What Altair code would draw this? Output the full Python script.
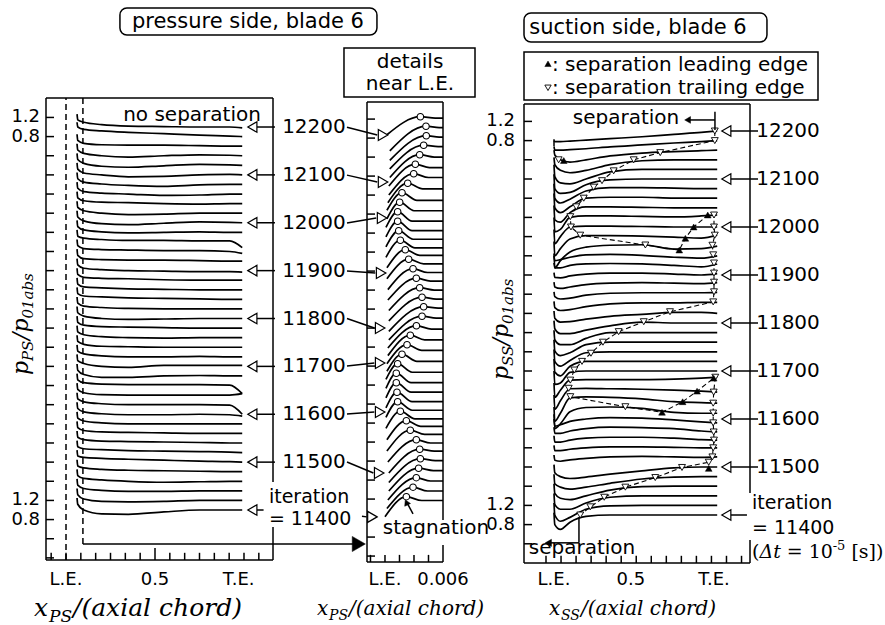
import altair as alt
import pandas as pd

# ---------------------------------------------------------------- data
ITER = list(range(11400, 12201, 20))          # 41 snapshots, k = 0..40
STEP = 0.2                                    # offset between snapshots

# pressure side: x nodes and deviation of each snapshot from its level
PS_X = [0.062, 0.066, 0.10, 0.20, 0.35, 0.55, 0.75, 0.92, 0.99]
PS_DEV = [
    [0.25, 0.12, 0.00, -0.08, -0.09, -0.04, 0.00, 0.00, 0.00],
    [0.25, 0.12, 0.03, -0.02, -0.03, -0.02, 0.00, 0.00, 0.00],
    [0.25, 0.12, 0.05, 0.01, -0.01, -0.01, 0.00, 0.00, 0.00],
    [0.25, 0.12, 0.06, 0.03, 0.00, -0.02, -0.01, 0.00, 0.00],
    [0.25, 0.12, 0.08, 0.05, 0.03, 0.02, 0.01, 0.00, 0.00],
    [0.25, 0.13, 0.10, 0.08, 0.06, 0.04, 0.02, 0.01, 0.00],
    [0.25, 0.12, 0.08, 0.06, 0.04, 0.03, 0.02, 0.01, 0.00],
    [0.25, 0.12, 0.07, 0.04, 0.03, 0.02, 0.01, 0.00, 0.00],
    [0.25, 0.12, 0.06, 0.03, 0.02, 0.01, 0.00, 0.00, 0.00],
    [0.25, 0.12, 0.06, 0.02, 0.00, 0.00, 0.00, 0.00, 0.00],
    [0.25, 0.12, 0.05, 0.01, -0.01, -0.01, 0.00, -0.01, -0.04],
    [0.25, 0.12, 0.06, 0.02, 0.00, 0.00, 0.00, -0.01, -0.20],
    [0.25, 0.12, 0.05, 0.01, 0.00, 0.00, 0.00, 0.00, 0.03],
    [0.25, 0.12, 0.06, 0.03, 0.02, 0.02, 0.02, 0.01, -0.17],
    [0.25, 0.12, 0.03, -0.03, -0.03, 0.00, 0.01, 0.00, 0.00],
    [0.25, 0.12, 0.06, 0.00, -0.02, 0.02, 0.02, 0.02, 0.02],
    [0.25, 0.12, 0.06, 0.02, 0.00, 0.00, 0.01, 0.00, 0.00],
    [0.25, 0.12, 0.06, 0.02, 0.01, 0.00, 0.00, 0.00, 0.00],
    [0.25, 0.12, 0.06, 0.02, 0.00, -0.01, 0.00, 0.00, 0.00],
    [0.25, 0.12, 0.06, 0.03, 0.02, 0.01, 0.00, 0.00, 0.00],
    [0.25, 0.12, 0.05, 0.00, -0.02, -0.01, 0.00, 0.00, 0.00],
    [0.25, 0.12, 0.06, 0.03, 0.01, 0.00, 0.00, 0.00, 0.00],
    [0.25, 0.12, 0.07, 0.05, 0.03, 0.02, 0.01, 0.00, 0.00],
    [0.25, 0.12, 0.06, 0.04, 0.02, 0.01, 0.00, 0.00, 0.00],
    [0.25, 0.12, 0.06, 0.04, 0.03, 0.01, 0.00, 0.00, 0.00],
    [0.25, 0.12, 0.05, 0.02, 0.00, -0.01, -0.02, -0.02, -0.03],
    [0.25, 0.12, 0.05, 0.03, 0.02, 0.02, 0.01, 0.00, 0.00],
    [0.25, 0.12, 0.06, 0.04, 0.03, 0.02, 0.02, 0.00, -0.04],
    [0.25, 0.12, 0.08, 0.05, 0.03, 0.03, 0.02, 0.02, -0.12],
    [0.25, 0.12, 0.05, 0.01, -0.01, 0.00, 0.01, 0.00, 0.00],
    [0.25, 0.12, 0.04, -0.02, -0.04, -0.01, 0.02, 0.01, 0.00],
    [0.25, 0.12, 0.05, 0.00, -0.03, -0.02, 0.00, 0.00, 0.00],
    [0.25, 0.12, 0.06, 0.03, 0.02, 0.00, -0.01, 0.00, 0.00],
    [0.25, 0.12, 0.05, 0.02, 0.00, -0.03, -0.02, 0.00, 0.00],
    [0.25, 0.12, 0.05, 0.01, -0.02, -0.04, -0.01, 0.00, 0.00],
    [0.25, 0.12, 0.04, 0.00, -0.04, -0.03, 0.00, 0.01, 0.00],
    [0.25, 0.12, 0.04, -0.02, -0.04, -0.01, 0.02, 0.01, 0.00],
    [0.25, 0.12, 0.05, 0.00, -0.03, 0.00, 0.02, 0.01, 0.00],
    [0.25, 0.12, 0.06, 0.03, 0.02, 0.02, 0.01, 0.00, 0.00],
    [0.30, 0.20, 0.15, 0.12, 0.09, 0.06, 0.03, 0.01, 0.00],
    [0.27, 0.15, 0.10, 0.05, 0.02, 0.01, 0.00, 0.00, -0.02],
]

# details near L.E. (x in 1/1000 of axial chord)
B_X0 = [0.0, 0.2, 0.3, 0.4, 0.4, 0.4, 0.3, 0.2, 0.2, 0.1, 0.1, 0.1, 0.1, 0.1, 0.1, 0.2, 0.2, 0.3, 0.3, 0.4,
        0.4, 0.4, 0.4, 0.3, 0.3, 0.2, 0.2, 0.1, 0.1, 0.1, 0.1, 0.2, 0.2, 0.3, 0.4, 0.4, 0.5, 0.5, 0.5, 0.5, 0.2]
B_Y0 = [-0.42, -0.45, -0.47, -0.48, -0.50, -0.50, -0.47, -0.44, -0.40, -0.36, -0.33, -0.33, -0.32, -0.32,
        -0.33, -0.36, -0.40, -0.43, -0.47, -0.50, -0.52, -0.50, -0.48, -0.46, -0.44, -0.41, -0.38, -0.36,
        -0.34, -0.33, -0.33, -0.35, -0.37, -0.41, -0.45, -0.46, -0.48, -0.50, -0.52, -0.52, -0.38]
B_XS = [2.21, 2.90, 3.24, 3.48, 3.66, 3.59, 3.24, 2.62, 2.21, 1.59, 1.31, 1.24, 1.17, 1.17, 1.31, 1.76,
        2.28, 2.62, 3.25, 3.83, 4.00, 3.83, 3.59, 3.24, 2.90, 2.45, 2.10, 1.59, 1.42, 1.31, 1.31, 1.52,
        1.76, 2.35, 2.97, 3.14, 3.59, 4.00, 4.27, 4.24, 3.66]
B_XK = [3.8, 4.4, 4.7, 5.0, 5.2, 5.1, 4.7, 4.1, 3.7, 3.1, 2.8, 2.8, 2.7, 2.7, 2.8, 3.3, 3.8, 4.1, 4.8, 5.3,
        5.5, 5.3, 5.1, 4.7, 4.4, 4.0, 3.6, 3.1, 2.9, 2.8, 2.8, 3.0, 3.3, 3.9, 4.5, 4.6, 5.1, 5.5, 5.6, 5.6, 5.2]
B_DROP = [0.08, 0.08, 0.07, 0.05, 0.04, 0.04, 0.07, 0.09, 0.12, 0.16, 0.18, 0.20, 0.20, 0.20, 0.18, 0.15,
          0.12, 0.10, 0.07, 0.04, 0.03, 0.04, 0.05, 0.06, 0.08, 0.10, 0.12, 0.16, 0.18, 0.20, 0.20, 0.18,
          0.16, 0.12, 0.08, 0.07, 0.05, 0.03, 0.03, 0.03, 0.03]
B_XEND = 6.0

# suction side
SS_X = [0.0, 0.005, 0.04, 0.10, 0.20, 0.35, 0.55, 0.75, 0.92, 1.02]
SS_DEV = [
    [0.05, -0.20, -0.30, -0.15, -0.03, 0.00, 0.00, 0.00, 0.00, 0.00],
    [0.05, -0.20, -0.33, -0.25, -0.08, -0.01, 0.00, 0.00, 0.00, 0.00],
    [0.05, -0.18, -0.28, -0.28, -0.15, -0.03, 0.00, 0.00, 0.00, 0.00],
    [0.05, -0.15, -0.25, -0.28, -0.20, -0.08, -0.01, 0.00, 0.00, 0.00],
    [0.05, -0.15, -0.22, -0.26, -0.22, -0.14, -0.05, -0.01, 0.00, 0.00],
    [0.05, -0.12, -0.20, -0.24, -0.21, -0.15, -0.08, -0.02, 0.00, 0.00],
    [0.05, -0.06, -0.08, -0.05, -0.02, 0.01, 0.02, 0.01, 0.00, 0.01],
    [0.05, -0.06, -0.06, -0.03, 0.00, 0.02, 0.02, 0.01, 0.00, 0.00],
    [0.05, -0.08, -0.08, -0.04, 0.00, 0.02, 0.02, 0.00, -0.03, -0.04],
    [0.03, -0.10, -0.10, -0.05, 0.00, 0.03, 0.02, 0.00, -0.05, -0.07],
    [0.00, -0.15, -0.12, -0.05, 0.00, 0.03, 0.02, -0.02, -0.06, -0.08],
    [-0.10, -0.40, -0.30, -0.05, 0.04, 0.05, 0.02, -0.06, -0.08, -0.08],
    [-0.15, -0.45, -0.28, 0.04, 0.06, 0.05, 0.02, -0.04, -0.06, -0.07],
    [-0.10, -0.40, -0.22, 0.03, 0.04, 0.03, 0.02, 0.00, -0.02, -0.04],
    [-0.05, -0.35, -0.20, 0.01, 0.02, 0.02, 0.02, 0.03, 0.05, 0.07],
    [0.00, -0.28, -0.25, -0.03, 0.00, 0.00, 0.00, 0.00, 0.00, 0.00],
    [0.05, -0.22, -0.30, -0.10, 0.00, 0.00, 0.00, 0.00, 0.00, 0.00],
    [0.05, -0.20, -0.30, -0.18, -0.02, 0.00, 0.00, 0.00, 0.00, 0.00],
    [0.05, -0.18, -0.28, -0.22, -0.05, 0.00, 0.00, 0.00, 0.00, 0.00],
    [0.05, -0.15, -0.25, -0.25, -0.12, 0.00, 0.00, 0.00, 0.00, 0.00],
    [0.05, -0.12, -0.22, -0.22, -0.15, -0.06, 0.02, 0.00, 0.00, 0.00],
    [0.05, -0.10, -0.18, -0.17, -0.12, -0.06, -0.02, 0.02, 0.02, 0.00],
    [0.05, -0.08, -0.14, -0.12, -0.06, 0.00, 0.02, 0.02, 0.03, 0.03],
    [0.05, -0.05, -0.10, -0.08, -0.02, 0.02, 0.03, 0.03, 0.03, 0.04],
    [0.05, -0.05, -0.08, -0.05, 0.00, 0.03, 0.04, 0.03, 0.02, 0.04],
    [0.05, -0.05, -0.06, -0.02, 0.02, 0.04, 0.04, 0.02, 0.00, 0.03],
    [0.05, -0.05, -0.05, 0.00, 0.03, 0.04, 0.03, 0.00, -0.03, 0.03],
    [0.00, -0.10, -0.08, -0.03, 0.02, 0.03, 0.01, -0.03, -0.05, 0.00],
    [-0.15, -0.45, -0.30, -0.12, -0.02, 0.02, 0.03, -0.06, -0.05, 0.00],
    [-0.10, -0.40, -0.25, -0.05, 0.02, 0.02, 0.01, -0.01, -0.03, 0.03],
    [-0.05, -0.35, -0.20, 0.00, 0.02, 0.02, 0.01, 0.00, 0.00, 0.00],
    [0.00, -0.30, -0.25, 0.00, 0.03, 0.03, 0.02, 0.01, 0.03, 0.05],
    [0.05, -0.25, -0.30, -0.10, 0.02, 0.02, 0.01, 0.00, 0.00, 0.00],
    [0.10, -0.20, -0.30, -0.18, 0.00, 0.02, 0.02, 0.00, 0.00, 0.00],
    [0.10, -0.20, -0.30, -0.22, -0.05, 0.02, 0.02, 0.01, 0.00, 0.00],
    [0.10, -0.20, -0.30, -0.28, -0.12, -0.02, 0.00, 0.00, 0.00, 0.00],
    [0.10, -0.15, -0.28, -0.30, -0.20, -0.05, 0.00, 0.00, 0.00, 0.00],
    [0.05, -0.10, -0.22, -0.27, -0.22, -0.10, -0.02, 0.00, 0.00, 0.00],
    [0.00, -0.10, -0.20, -0.25, -0.20, -0.12, -0.06, -0.03, -0.01, 0.00],
    [-0.12, -0.20, -0.20, -0.19, -0.17, -0.13, -0.09, -0.05, -0.02, 0.00],
    [-0.20, -0.22, -0.22, -0.21, -0.19, -0.16, -0.12, -0.07, -0.03, 0.00],
]

# separation path on suction side: (snapshot k, x, deviation, marker)  v = trailing, ^ = leading
SEP_PATH = [
    (40, 1.005, 0.00, "v"), (39, 1.005, 0.00, "v"), (38, 0.664, -0.05, "v"), (37, 0.498, 0.00, "v"),
    (36, 0.373, -0.03, "v"), (35, 0.300, -0.035, "v"), (34, 0.248, 0.03, "v"), (33, 0.186, 0.00, "v"),
    (32, 0.139, 0.02, "v"), (31, 0.102, 0.015, "v"), (30, 0.106, 0.00, "v"), (29, 0.164, 0.03, "v"),
    (28, 0.571, 0.025, "v"), (28, 0.783, -0.08, "^"), (29, 0.821, -0.035, "^"), (30, 0.873, 0.00, "^"),
    (31, 0.961, 0.05, "^"), (31, 1.000, 0.05, "v"), (30, 1.000, 0.00, "v"), (29, 1.005, 0.03, "v"),
    (28, 0.990, 0.02, "v"), (27, 0.995, 0.02, "v"), (26, 1.000, 0.05, "v"), (25, 1.000, 0.04, "v"),
    (24, 1.000, 0.05, "v"), (23, 1.000, 0.05, "v"), (22, 0.995, 0.04, "v"), (21, 0.725, 0.035, "v"),
    (20, 0.561, 0.027, "v"), (19, 0.404, 0.02, "v"), (18, 0.306, 0.00, "v"), (17, 0.231, -0.03, "v"),
    (16, 0.175, 0.00, "v"), (15, 0.127, 0.02, "v"), (14, 0.102, 0.01, "v"), (13, 0.092, 0.04, "v"),
    (12, 0.102, 0.065, "v"), (11, 0.446, 0.056, "v"), (11, 0.675, -0.06, "^"), (12, 0.804, -0.04, "^"),
    (13, 0.894, -0.02, "^"), (14, 0.998, 0.05, "^"), (14, 1.008, 0.07, "v"), (13, 0.998, -0.04, "v"),
    (12, 0.995, -0.07, "v"), (11, 0.995, -0.075, "v"), (10, 0.995, -0.08, "v"), (9, 0.998, -0.07, "v"),
    (8, 1.000, -0.04, "v"), (7, 0.995, 0.00, "v"), (6, 0.990, 0.01, "v"), (5, 0.967, 0.10, "v"),
    (5, 0.800, -0.01, "v"), (4, 0.633, -0.02, "v"), (3, 0.446, -0.02, "v"), (2, 0.314, -0.03, "v"),
    (1, 0.227, -0.03, "v"), (0, 0.164, 0.00, "v"),
]
SEP_EXTRA = [(37, 0.029, 0.00, "v"), (37, 0.061, -0.015, "^"), (5, 0.967, -0.03, "^")]

LABEL_ITER = [12200, 12100, 12000, 11900, 11800, 11700, 11600, 11500]
LABEL_K = [40, 35, 30, 25, 20, 15, 10, 5]
B_TAIL_V = [7.78, 6.77, 5.76, 4.75, 3.75, 2.75, 1.74, 0.73, -0.41]
B_HEAD_V = [7.615, 6.625, 5.867, 4.71, 3.55, 2.815, 1.783, 0.50, -0.425]
B_HEAD_X = [-0.2, -0.2, -0.3, -0.4, -0.5, -0.5, -0.5, -0.6, -1.3]

Y_TICKLABELS = [(-0.2, "0.8"), (0.2, "1.2"), (7.8, "0.8"), (8.2, "1.2")]
A_X_TICKLABELS = [(0.0, "L.E."), (0.5, "0.5"), (0.97, "T.E.")]
C_X_TICKLABELS = [(0.0, "L.E."), (0.48, "0.5"), (1.0, "T.E.")]
B_X_TICKLABELS = [(0.0, "L.E."), (0.006, "0.006")]

# ---------------------------------------------------------------- scales
AX = alt.Scale(domain=[-0.1124, 1.236], nice=False, zero=False)
AY = alt.Scale(domain=[-1.107, 8.606], nice=False, zero=False)
BX = alt.Scale(domain=[-0.00186, 0.006], nice=False, zero=False)
BY = alt.Scale(domain=[-1.396, 8.394], nice=False, zero=False)
CX = alt.Scale(domain=[-0.1875, 1.2375], nice=False, zero=False)
CY = alt.Scale(domain=[-1.0, 8.6875], nice=False, zero=False)

SANS = "DejaVu Sans"
SERIF = "DejaVu Serif"
LW = 1.7


def rules(rows, xs, ys, width=1.5, dash=None):
    kw = dict(color="black", strokeWidth=width)
    if dash:
        kw["strokeDash"] = dash
    df = pd.DataFrame(rows, columns=["x", "x2", "y", "y2"])
    return alt.Chart(df).mark_rule(**kw).encode(
        x=alt.X("x:Q", scale=xs, axis=None), x2="x2:Q",
        y=alt.Y("y:Q", scale=ys, axis=None), y2="y2:Q")


def texts(rows, xs, ys, font=SANS, align="center", baseline="middle", italic=False, angle=0):
    df = pd.DataFrame(rows, columns=["x", "y", "t", "s"])
    kw = dict(font=font, align=align, baseline=baseline, color="black")
    if italic:
        kw["fontStyle"] = "italic"
    if angle:
        kw["angle"] = angle
    return alt.Chart(df).mark_text(**kw).encode(
        x=alt.X("x:Q", scale=xs, axis=None), y=alt.Y("y:Q", scale=ys, axis=None),
        text="t:N", size=alt.Size("s:Q", scale=None, legend=None))


def points(rows, xs, ys, shape, size, fill, sw=1.2, angle=0):
    df = pd.DataFrame(rows, columns=["x", "y"])
    kw = dict(shape=shape, size=size, filled=True, fill=fill, stroke="black", strokeWidth=sw, opacity=1)
    if angle:
        kw["angle"] = angle
    return alt.Chart(df).mark_point(**kw).encode(
        x=alt.X("x:Q", scale=xs, axis=None), y=alt.Y("y:Q", scale=ys, axis=None))


def box(rows, xs, ys, radius=0):
    df = pd.DataFrame(rows, columns=["x", "x2", "y", "y2"])
    kw = dict(fillOpacity=0, stroke="black", strokeWidth=1.5)
    if radius:
        kw["cornerRadius"] = radius
    return alt.Chart(df).mark_rect(**kw).encode(
        x=alt.X("x:Q", scale=xs, axis=None), x2="x2:Q",
        y=alt.Y("y:Q", scale=ys, axis=None), y2="y2:Q")


def curves(rows, xs, ys):
    return alt.Chart(pd.DataFrame(rows)).mark_line(
        interpolate="monotone", color="black", strokeWidth=LW).encode(
        x=alt.X("x:Q", scale=xs, axis=None), y=alt.Y("v:Q", scale=ys, axis=None), detail="k:N")


# ================================================================ panel A
a_rows = [{"k": k, "x": x, "v": STEP * k + d} for k, dev in enumerate(PS_DEV) for x, d in zip(PS_X, dev)]
A_curves = curves(a_rows, AX, AY)

A_TOP, A_BOT, A_L, A_R = 8.606, -1.044, -0.1124, 1.163
A_frame = rules([(A_L, A_L, A_BOT, A_TOP), (A_L, A_R, A_TOP, A_TOP), (A_L, A_R, A_BOT, A_BOT),
                 (A_R, A_R, A_TOP, 0.585), (A_R, A_R, -0.355, A_BOT)], AX, AY)
A_yt = rules([(A_L, A_L + 0.045, -1.0 + 0.4 * i, -1.0 + 0.4 * i) for i in range(24)], AX, AY)
A_xt = rules([(n / 12, n / 12, A_BOT, A_BOT + (0.25 if n == 6 else 0.15)) for n in range(-1, 14)], AX, AY)
A_ylab = texts([(-0.146, v, t, 18) for v, t in Y_TICKLABELS], AX, AY, align="right")
A_xlab = texts([(x, -1.462, t, 18) for x, t in A_X_TICKLABELS], AX, AY)
A_dash = rules([(0.0, 0.0, A_BOT, A_TOP), (0.095, 0.095, -0.71, A_TOP)], AX, AY, dash=[6, 4])
A_link = rules([(0.095, 1.62, -0.71, -0.71)], AX, AY)
A_link_head = points([(1.645, -0.71)], AX, AY, "triangle-right", 230, "black", sw=0.5)

lab_rows = [(1.393, STEP * k, str(it), 20) for it, k in zip(LABEL_ITER, LABEL_K)]
A_labels = texts(lab_rows, AX, AY)
A_arrow_lines = rules([(1.073, 1.174, STEP * k, STEP * k) for k in LABEL_K] + [(1.073, 1.11, 0.0, 0.0)], AX, AY)
A_arrow_heads = points([(1.047, STEP * k) for k in LABEL_K + [0]], AX, AY, "triangle-left", 110, "white")
A_iter = texts([(1.14, 0.27, "iteration", 19), (1.14, -0.19, "= 11400", 19)], AX, AY, align="left")
A_nosep = texts([(0.708, 8.25, "no separation", 20)], AX, AY)
A_title_box = box([(0.303, 1.747, 10.486, 9.922)], AX, AY, radius=7)
A_title = texts([(1.022, 10.19, "pressure side, blade 6", 21)], AX, AY)
A_ytitle = texts([(-0.2135, 2.820, "p", 22), (-0.1854, 3.112, "PS", 15), (-0.2135, 3.551, "/p", 22),
                  (-0.1854, 4.0, "01abs", 15)], AX, AY, font=SERIF, align="left", baseline="alphabetic",
                 italic=True, angle=270)
A_xtitle = texts([(-0.1798, -2.214, "x", 25), (-0.0955, -2.339, "PS", 17), (0.0393, -2.214, "/(axial chord)", 25)],
                 AX, AY, font=SERIF, align="left", baseline="alphabetic", italic=True)

panelA = alt.layer(A_curves, A_frame, A_yt, A_xt, A_ylab, A_xlab, A_dash, A_link, A_link_head, A_labels,
                   A_arrow_lines, A_arrow_heads, A_iter, A_nosep, A_title_box, A_title, A_ytitle, A_xtitle
                   ).properties(width=240, height=465)

# ================================================================ panel B
b_rows = []
for k in range(41):
    base = STEP * k
    for x, v in [(B_X0[k], base + B_Y0[k]), (B_XS[k], base), (B_XK[k], base - B_DROP[k]),
                 (B_XEND, base - B_DROP[k])]:
        b_rows.append({"k": k, "x": x / 1000.0, "v": v})
B_curves = curves(b_rows, BX, BY)
B_circles = points([(B_XS[k] / 1000.0, STEP * k) for k in range(41)], BX, BY, "circle", 42, "white", sw=1.1)

B_TOP, B_BOT, B_L, B_R = 8.31, -1.375, -0.00186, 0.006
B_frame = rules([(B_L, B_L, B_BOT, B_TOP), (B_L, B_R, B_TOP, B_TOP), (B_L, B_R, B_BOT, B_BOT),
                 (B_R, B_R, B_TOP, -0.49), (B_R, B_R, -1.017, B_BOT)], BX, BY)
B_yt = rules([(B_L, B_L + 0.00083, 7.95 - 0.4 * i, 7.95 - 0.4 * i) for i in range(24)], BX, BY)
B_xt = rules([(x, x, B_BOT, B_BOT + 0.15) for x in [-0.0015, 0.0, 0.0015, 0.003, 0.0045]], BX, BY)
B_xlab = texts([(x, -1.754, t, 18) for x, t in B_X_TICKLABELS], BX, BY)
tails_x = [-0.00393] * 8 + [-0.00238]
B_arrow_lines = rules([(tx, (hx - 0.6) / 1000.0, tv, hv) for tx, tv, hv, hx in zip(tails_x, B_TAIL_V, B_HEAD_V, B_HEAD_X)],
                      BX, BY)
B_arrow_heads = points([(hx / 1000.0, hv) for hv, hx in zip(B_HEAD_V, B_HEAD_X)], BX, BY, "triangle-right", 120, "white")
B_box = box([(-0.00424, 0.00931, 9.446, 8.415)], BX, BY)
B_boxtext = texts([(0.00259, 9.15, "details", 20), (0.00259, 8.69, "near L.E.", 20)], BX, BY)
B_stag = texts([(0.00528, -0.66, "stagnation", 20)], BX, BY)
B_stag_line = rules([(0.0029, 0.00228, -0.36, -0.13)], BX, BY)
B_stag_head = points([(0.00222, -0.12)], BX, BY, "triangle-up", 40, "black", sw=0.5, angle=335)
B_xtitle = texts([(-0.007034, -2.491, "x", 20), (-0.005793, -2.596, "PS", 14), (-0.003724, -2.491, "/(axial chord)", 20)],
                 BX, BY, font=SERIF, align="left", baseline="alphabetic", italic=True)

panelB = alt.layer(B_curves, B_circles, B_frame, B_yt, B_xt, B_xlab, B_arrow_lines, B_arrow_heads, B_box,
                   B_boxtext, B_stag, B_stag_line, B_stag_head, B_xtitle).properties(width=76, height=465)

# ================================================================ panel C
c_rows = [{"k": k, "x": x, "v": STEP * k + d} for k, dev in enumerate(SS_DEV) for x, d in zip(SS_X, dev)]
C_curves = curves(c_rows, CX, CY)

sep_df = pd.DataFrame([{"o": i, "x": x, "v": STEP * k + d} for i, (k, x, d, m) in enumerate(SEP_PATH)])
C_sep = alt.Chart(sep_df).mark_line(color="black", strokeWidth=1.1, strokeDash=[5, 3]).encode(
    x=alt.X("x:Q", scale=CX, axis=None), y=alt.Y("v:Q", scale=CY, axis=None), order="o:Q")
all_marks = SEP_PATH + SEP_EXTRA
C_trail = points([(x, STEP * k + d) for k, x, d, m in all_marks if m == "v"], CX, CY, "triangle-down", 48, "white", sw=0.9)
C_lead = points([(x, STEP * k + d) for k, x, d, m in all_marks if m == "^"], CX, CY, "triangle-up", 45, "black", sw=0.5)

C_TOP, C_BOT, C_L, C_R = 8.5625, -1.0, -0.1875, 1.225
C_frame = rules([(C_L, C_L, C_BOT, C_TOP), (C_L, C_R, C_TOP, C_TOP), (C_L, C_R, C_BOT, C_BOT),
                 (C_R, C_R, C_TOP, 0.458), (C_R, C_R, -0.52, C_BOT)], CX, CY)
C_yt = rules([(C_L, C_L + 0.05, 8.2 - 0.4 * i, 8.2 - 0.4 * i) for i in range(23)], CX, CY)
C_xt = rules([(-0.05 + 0.094 * i, -0.05 + 0.094 * i, C_BOT, C_BOT + 0.15) for i in range(14)], CX, CY)
C_ylab = texts([(-0.244, v, t, 18) for v, t in Y_TICKLABELS], CX, CY, align="right")
C_xlab = texts([(x, -1.354, t, 18) for x, t in C_X_TICKLABELS], CX, CY)
C_le_tick = rules([(0.0, 0.0, 7.69, 7.83)], CX, CY)

C_labels = texts([(1.4625, STEP * k, str(it), 20) for it, k in zip(LABEL_ITER, LABEL_K)], CX, CY)
C_arrow_lines = rules([(1.10, 1.275, STEP * k, STEP * k) for k in LABEL_K] + [(1.10, 1.206, 0.0, 0.0)], CX, CY)
C_arrow_heads = points([(1.077, STEP * k) for k in LABEL_K + [0]], CX, CY, "triangle-left", 110, "white")
C_iter = texts([(1.2375, 0.25, "iteration", 19), (1.2375, -0.28, "= 11400", 19)], CX, CY, align="left")
C_dt1 = texts([(1.2375, -0.896, "(", 19), (1.4544, -0.896, "= 10", 19), (1.7419, -0.729, "-5", 13),
               (1.8588, -0.896, "[s])", 19)], CX, CY, font=SERIF, align="left", baseline="alphabetic")
C_dt2 = texts([(1.2838, -0.896, "Δt", 19)], CX, CY, font=SERIF, align="left", baseline="alphabetic", italic=True)

C_sep_top = rules([(1.006, 1.006, 8.02, 8.40), (0.85, 1.006, 8.23, 8.23)], CX, CY)
C_sep_top_head = points([(0.835, 8.23)], CX, CY, "triangle-left", 45, "black", sw=0.5)
C_sep_top_txt = texts([(0.45, 8.27, "separation", 20)], CX, CY)
C_sep_bot = rules([(0.156, 0.156, -0.04, -0.58), (-0.02, 0.156, -0.58, -0.58)], CX, CY)
C_sep_bot_head = points([(-0.035, -0.58)], CX, CY, "triangle-left", 50, "black", sw=0.5)
C_sep_bot_txt = texts([(0.175, -0.69, "separation", 20)], CX, CY)

C_title_box = box([(-0.1875, 1.331, 10.458, 9.854)], CX, CY, radius=7)
C_title = texts([(0.525, 10.146, "suction side, blade 6", 21)], CX, CY)
C_leg_box = box([(-0.1875, 1.65, 9.646, 8.646)], CX, CY)
C_leg_up = points([(-0.0375, 9.40)], CX, CY, "triangle-up", 40, "black", sw=0.5)
C_leg_dn = points([(-0.0375, 8.90)], CX, CY, "triangle-down", 40, "white", sw=0.9)
C_leg_txt = texts([(-0.0125, 9.375, ": separation leading edge", 20), (-0.0125, 8.896, ": separation trailing edge", 20)],
                  CX, CY, align="left")
C_ytitle = texts([(-0.2875, 2.8125, "p", 22), (-0.25625, 3.104, "SS", 15), (-0.2875, 3.531, "/p", 22),
                  (-0.25625, 3.979, "01abs", 15)], CX, CY, font=SERIF, align="left", baseline="alphabetic",
                 italic=True, angle=270)
C_xtitle = texts([(-0.03125, -2.083, "x", 20), (0.04375, -2.188, "SS", 14), (0.16875, -2.083, "/(axial chord)", 20)],
                 CX, CY, font=SERIF, align="left", baseline="alphabetic", italic=True)

panelC = alt.layer(C_curves, C_sep, C_trail, C_lead, C_frame, C_yt, C_xt, C_ylab, C_xlab, C_le_tick, C_labels,
                   C_arrow_lines, C_arrow_heads, C_iter, C_dt1, C_dt2, C_sep_top, C_sep_top_head, C_sep_top_txt,
                   C_sep_bot, C_sep_bot_head, C_sep_bot_txt, C_title_box, C_title, C_leg_box, C_leg_up, C_leg_dn,
                   C_leg_txt, C_ytitle, C_xtitle).properties(width=228, height=465)

chart = alt.hconcat(panelA, panelB, panelC, spacing=81, bounds="flush").properties(
    padding={"left": 10, "top": 7, "right": 0, "bottom": 0}, background="white"
).configure_view(stroke=None)

chart.save("out.html", embed_options={"renderer": "svg", "actions": False})
